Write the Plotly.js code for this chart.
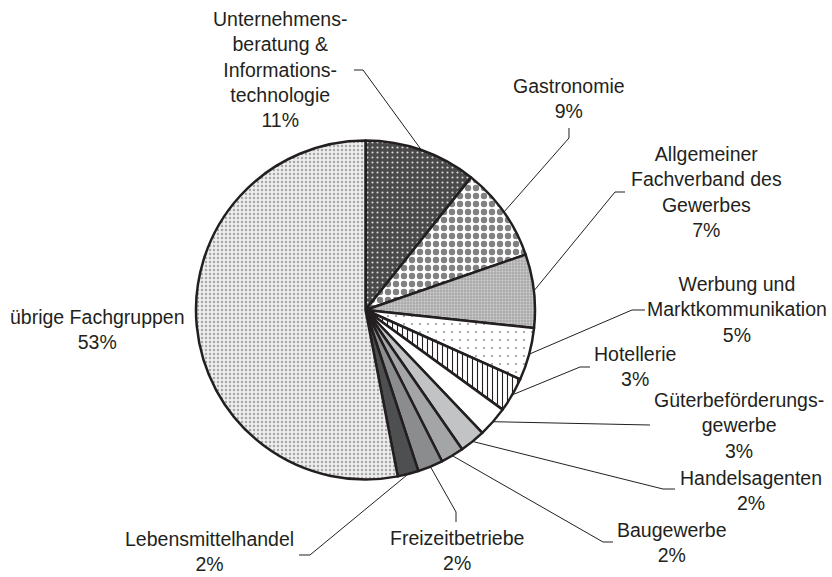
<!DOCTYPE html>
<html>
<head>
<meta charset="utf-8">
<script src="https://cdn.plot.ly/plotly-3.0.1.min.js"></script>
<style>
  html, body { margin: 0; padding: 0; background: #fff; }
  #chart { width: 832px; height: 577px; }
</style>
</head>
<body>
<div id="chart"></div>
<script>
// Fachgruppen, shares in percent (clockwise from 12 o'clock)
var labels = [
    'Unternehmens-<br>beratung &<br>Informations-<br>technologie',
    'Gastronomie',
    'Allgemeiner<br>Fachverband des<br>Gewerbes',
    'Werbung und<br>Marktkommunikation',
    'Hotellerie',
    'Güterbeförderungs-<br>gewerbe',
    'Handelsagenten',
    'Baugewerbe',
    'Freizeitbetriebe',
    'Lebensmittelhandel',
    'übrige Fachgruppen'
];
var values = [10.7, 9.0, 7.0, 5.0, 3.3, 2.9, 2.45, 2.2, 2.4, 2.0, 53.05];

// slice styles
var bgColors = ['#4a4a4b', '#ffffff', '#ababab', '#ffffff', '#ffffff', '#ffffff',
                '#c2c3c5', '#a4a5a7', '#8b8c8e', '#4e4f51', '#eeeeee'];
var fgColors = ['#d8d8d8', '#808080', '#d2d2d2', '#9a9a9a', '#231f20', '#ffffff',
                '#c2c3c5', '#a4a5a7', '#8b8c8e', '#4e4f51', '#a8a8a8'];
var shapes = ['.', '.', '.', '.', '|', '', '', '', '', '', '.'];
var sizes = [5, 8, 3, 8, 5, 8, 8, 8, 8, 8, 4];
var solid = [0.15, 0.5, 0.3, 0.06, 0.22, 0.3, 0.3, 0.3, 0.3, 0.3, 0.3];

// label block centres and leader-line bends (pixels)
var labelPos = [[280, 70], [569, 98], [706, 192], [737, 309], [635, 366],
                [739, 425], [751, 490], [672, 542], [457, 550], [209, 551], [97, 330]];
var leaders = [
    [[354, 70], [363, 70]],
    [[569, 128], [569, 138]],
    [[625, 192], [615, 192]],
    [[645, 310], [632, 310]],
    [[590, 367], [580, 367]],
    [[650, 425]],
    [[675, 489], [663, 489]],
    [[613, 542], [603, 542]],
    [[456, 522], [456, 512]],
    [[299, 555], [310, 555]],
    []
];

var W = 832, H = 577;
var cx = 365.5, cy = 310, r = 169.5;
var ink = '#231f20';

function px(x) { return x / W; }
function py(y) { return 1 - y / H; }

var total = values.reduce(function (a, b) { return a + b; }, 0);
var annotations = [];
var lines = [];
var cum = 0;
values.forEach(function (v, i) {
    var mid = (cum + v / 2) / total * 2 * Math.PI;
    cum += v;
    var ex = cx + r * Math.sin(mid), ey = cy - r * Math.cos(mid);
    annotations.push({
        x: px(labelPos[i][0]), y: py(labelPos[i][1]),
        xref: 'paper', yref: 'paper', xanchor: 'center', yanchor: 'middle',
        text: labels[i] + '<br>' + Math.round(v / total * 100) + '%',
        showarrow: false, align: 'center',
        font: {family: 'Liberation Sans, Arial, sans-serif', size: 19.5, color: ink}
    });
    if (leaders[i].length) {
        var pts = leaders[i].concat([[ex, ey]]);
        var path = pts.map(function (p, k) {
            return (k ? 'L' : 'M') + px(p[0]).toFixed(5) + ',' + py(p[1]).toFixed(5);
        }).join(' ');
        lines.push({type: 'path', xref: 'paper', yref: 'paper', path: path,
                    line: {color: ink, width: 1}});
    }
});

var data = [{
    type: 'pie',
    labels: labels,
    values: values,
    sort: false,
    direction: 'clockwise',
    rotation: 0,
    textinfo: 'none',
    hoverinfo: 'skip',
    domain: {x: [(cx - r) / W, (cx + r) / W], y: [1 - (cy + r) / H, 1 - (cy - r) / H]},
    marker: {
        colors: bgColors,
        line: {color: ink, width: 2.5},
        pattern: {shape: shapes, fgcolor: fgColors, bgcolor: bgColors,
                  size: sizes, solidity: solid}
    }
}];

var layout = {
    width: W,
    height: H,
    margin: {l: 0, r: 0, t: 0, b: 0},
    showlegend: false,
    paper_bgcolor: '#ffffff',
    annotations: annotations,
    shapes: lines
};

Plotly.newPlot('chart', data, layout, {displayModeBar: false});
</script>
</body>
</html>
